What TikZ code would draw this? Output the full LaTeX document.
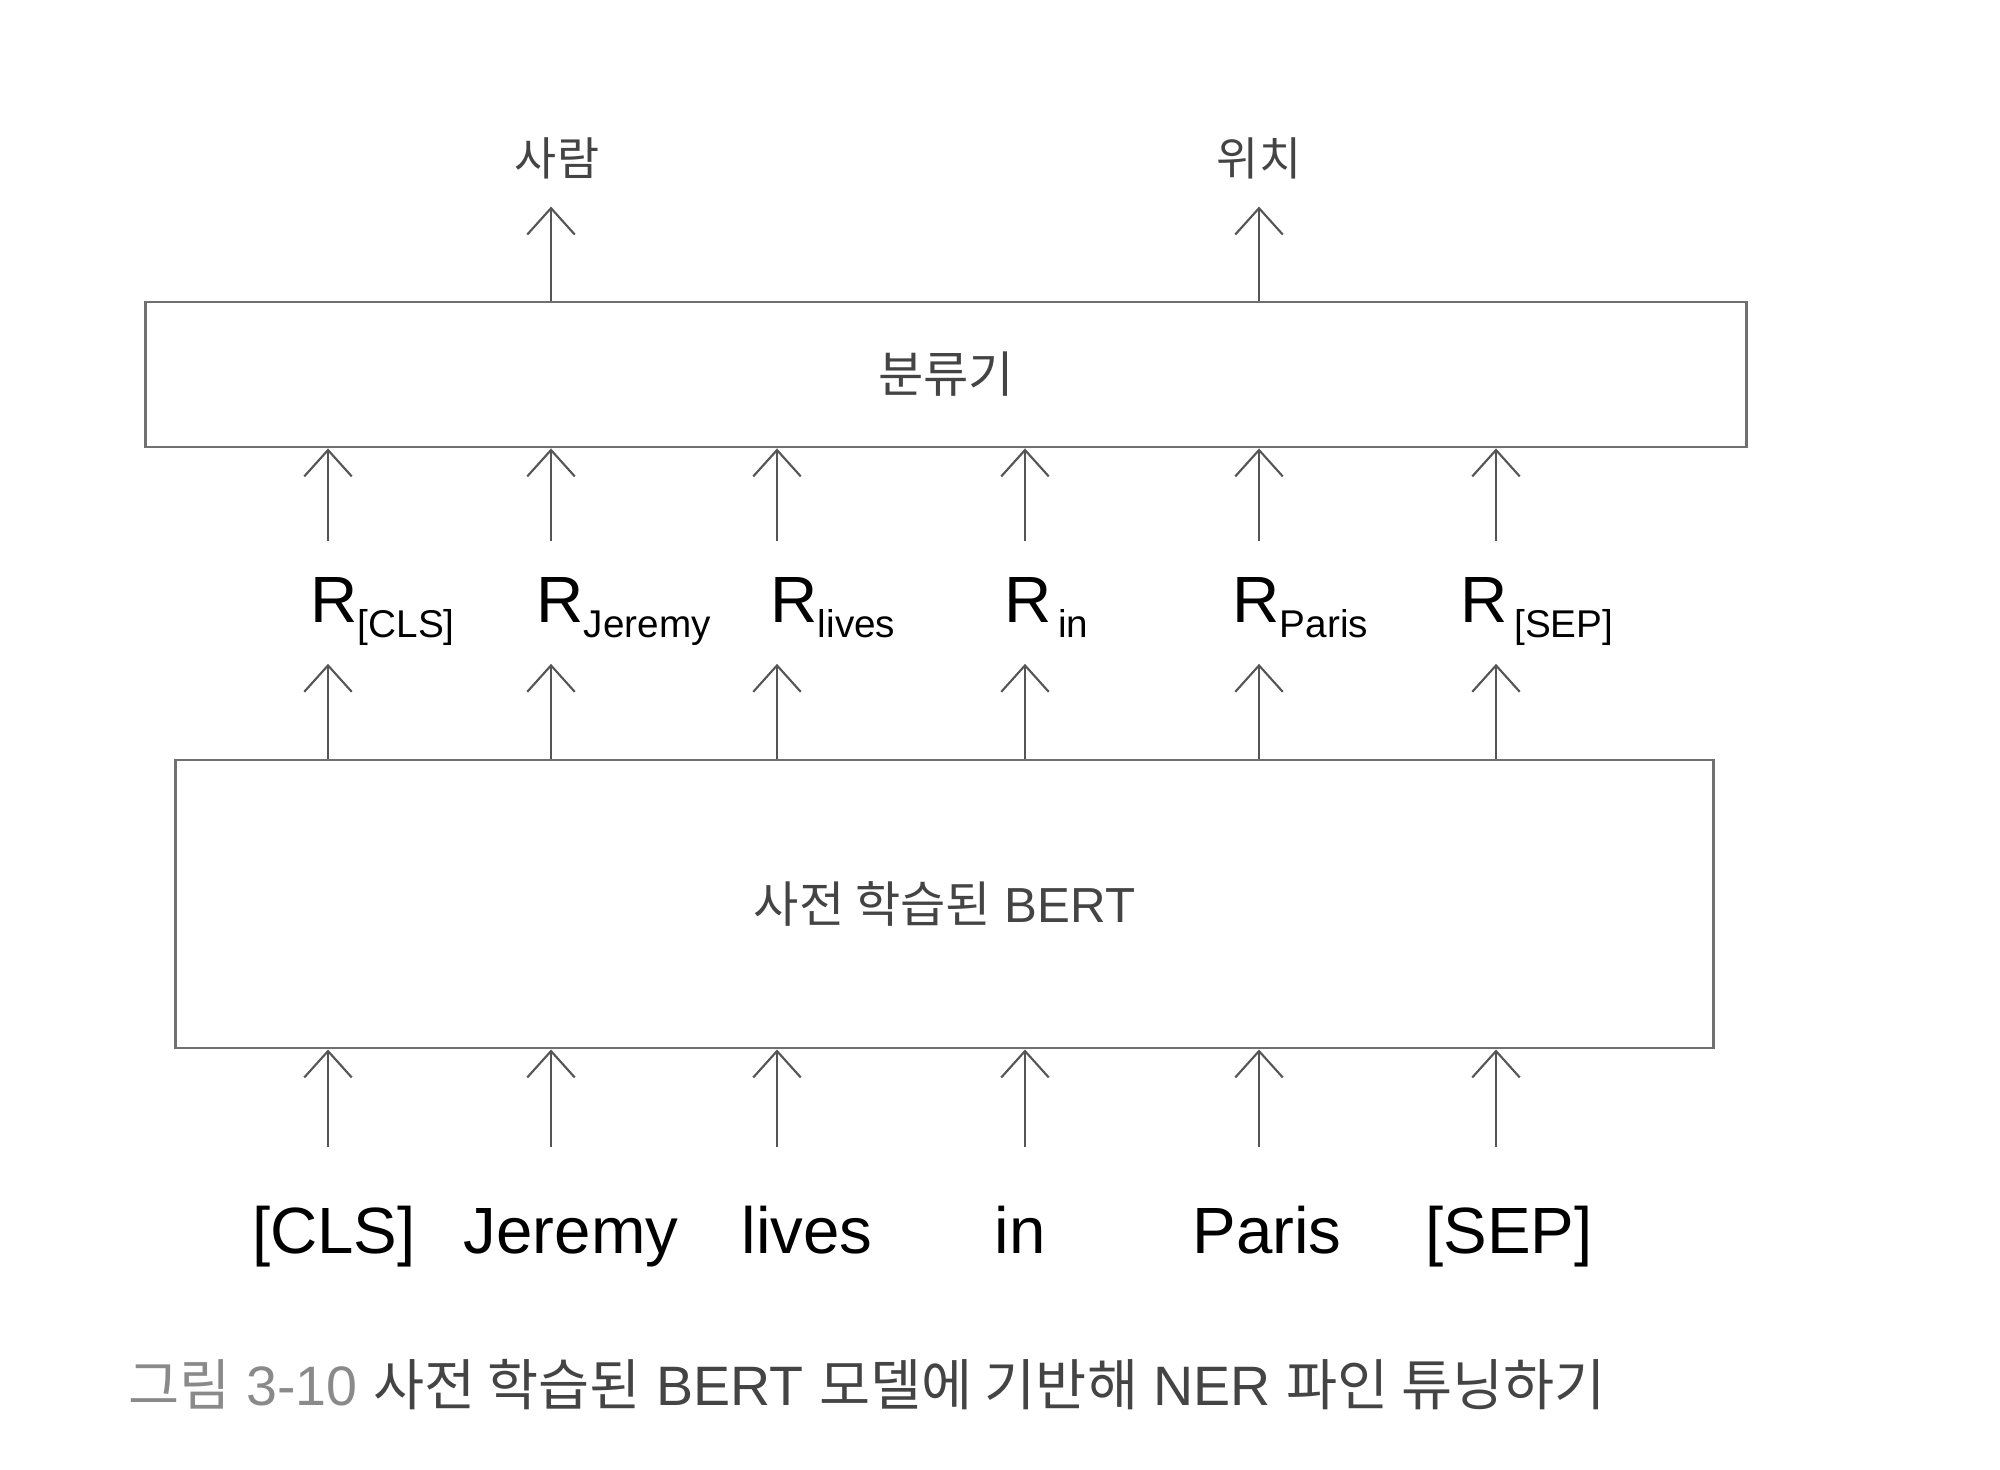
\documentclass[tikz,border=0pt]{standalone}
\usepackage{fontspec}
\setmainfont{Liberation Sans}
\newfontfamily\kr{Noto Sans CJK KR}
\usetikzlibrary{arrows.meta}
\definecolor{linegray}{HTML}{707070}
\definecolor{arrowgray}{HTML}{555555}
\definecolor{textgray}{HTML}{444444}
\definecolor{capgray}{HTML}{8A8A8A}
\newcommand{\Rlab}[1]{R\raisebox{-4.5pt}{\fontsize{11}{13}\selectfont #1}}

\begin{document}
\begin{tikzpicture}[x=0.01cm, y=-0.01cm,
    box/.style={draw=linegray, line width=0.8pt, inner sep=0, font=\fontsize{14}{16}\selectfont, text=textgray},
    arr/.style={draw=arrowgray, line width=0.6pt, -{Straight Barb[length=7.5pt,width=13.5pt]}},
    word/.style={font=\fontsize{18.6}{22}\selectfont, inner sep=0, text height=13.4pt, text depth=4pt, anchor=base},
    rep/.style={font=\fontsize{18.6}{22}\selectfont, inner sep=0, text height=13.4pt, text depth=4pt, anchor=base west},
    tag/.style={font=\kr\fontsize{13}{15}\selectfont, text=textgray, inner sep=0, text height=10pt, text depth=2pt, anchor=base}]
    \useasboundingbox (0,0) rectangle (2000,1470);

    \node[box, minimum width=16cm, minimum height=1.45cm] (cls) at (946,374.5) {\kr 분류기};
    \node[box, minimum width=15.37cm, minimum height=2.88cm] (bert) at (944.5,904) {{\kr 사전 학습된} BERT};

    \foreach \i/\x/\rx/\wx/\w/\r in {1/328/310/334/{[CLS]}/{[CLS]}, 2/551/536/571/Jeremy/Jeremy,
        3/777/770/807/lives/lives, 4/1025/1004/1020/in/{\,in}, 5/1259/1232/1267/Paris/Paris,
        6/1496/1460/1509/{[SEP]}/{\,[SEP]}} {
        \coordinate (c\i) at (\x,0);
        \node[word] (w\i) at (\wx,1253) {\w};
        \node[rep] (r\i) at (\rx,622) {\Rlab{\r}};
        \draw[arr, shorten <=16.5pt] (c\i |- w\i.north) -- (c\i |- bert.south);
        \draw[arr, shorten >=7.7pt] (c\i |- bert.north) -- (c\i |- r\i.south);
        \draw[arr, shorten <=9.4pt] (c\i |- r\i.north) -- (c\i |- cls.south);
    }

    \node[tag] (per) at (557,176) {사람};
    \node[tag] (loc) at (1259,176) {위치};
    \draw[arr, shorten >=6.5pt] (cls.north -| c2) -- (c2 |- per.south);
    \draw[arr, shorten >=6.5pt] (cls.north -| c5) -- (c5 |- loc.south);

    \node[anchor=base west, inner sep=0, font=\fontsize{15.8}{19}\selectfont] (cap) at (128,1405)
        {\textcolor{capgray}{{\kr 그림} 3-10} \textcolor{textgray}{{\kr 사전 학습된} BERT {\kr 모델에 기반해} NER {\kr 파인 튜닝하기}}};
\end{tikzpicture}
\end{document}
